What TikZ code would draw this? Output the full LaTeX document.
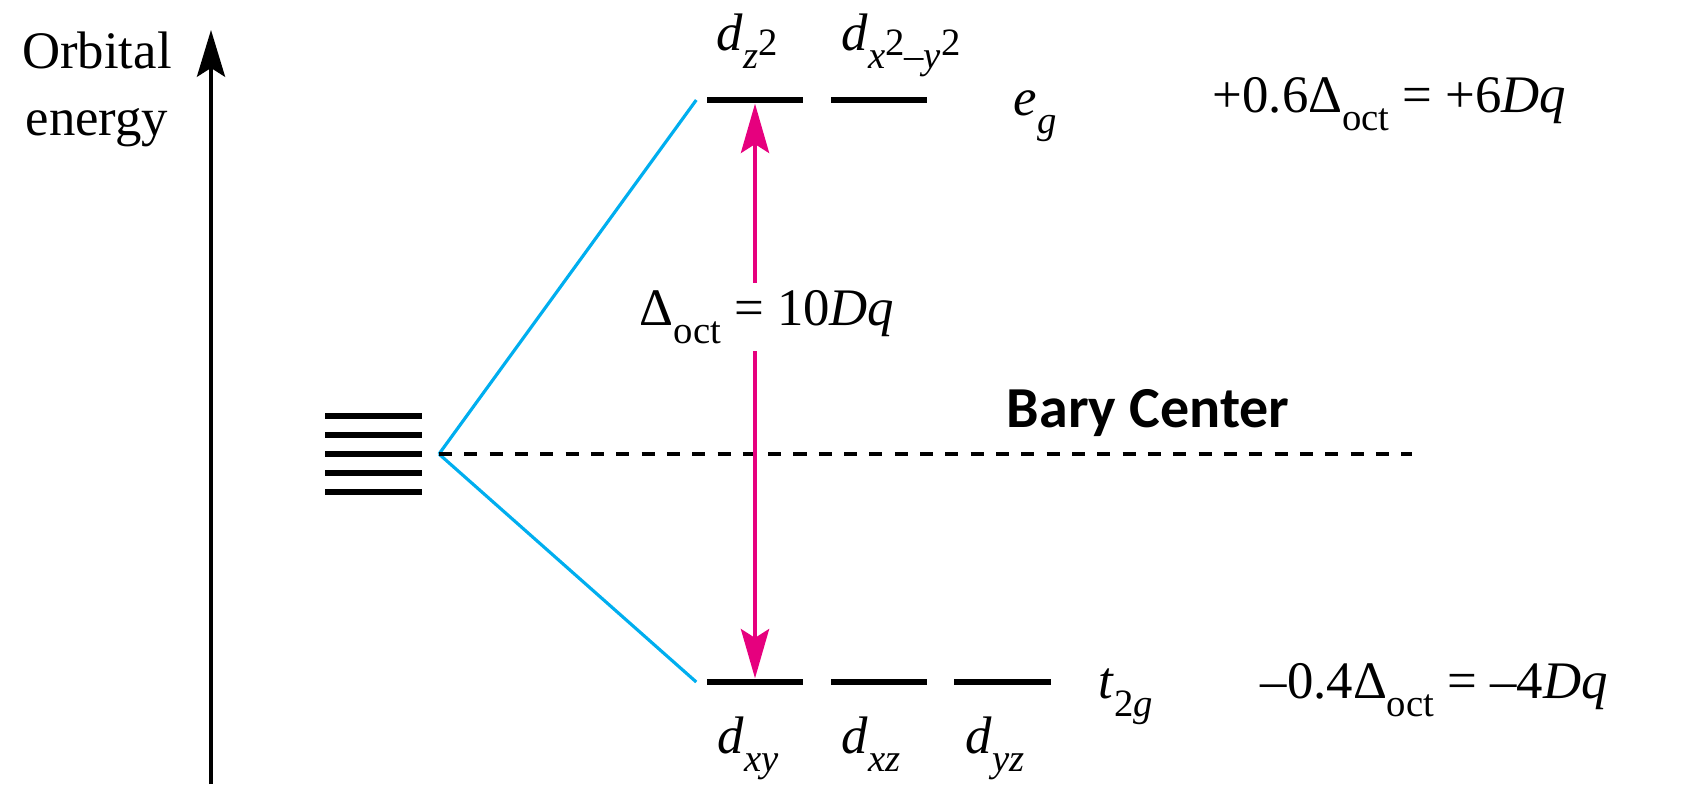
\documentclass[tikz,border=0pt]{standalone}
\usepackage{fontspec}
\setmainfont{Liberation Serif}
\newfontfamily\labelsans{Carlito}
\usepackage{xcolor}
\usepackage{tikz}
\usetikzlibrary{arrows.meta, positioning}
\definecolor{splitblue}{RGB}{0,174,239}
\definecolor{gapmagenta}{RGB}{230,0,126}
% lowered subscript and raised exponent, set as text
\newcommand{\lo}[1]{\raisebox{-0.35em}{\fontsize{11}{11}\selectfont #1}}
\newcommand{\up}[1]{\raisebox{0.33em}{#1}}

\begin{document}
\begin{tikzpicture}[x=0.01cm, y=-0.01cm, font=\fontsize{15}{18}\selectfont,
  level/.style={fill=black, inner sep=0pt, minimum width=0.96cm, minimum height=0.06cm},
  freelevel/.style={level, minimum width=0.97cm},
  split/.style={splitblue, line width=0.9pt},
  lbl/.style={inner sep=0pt, anchor=base}]
\useasboundingbox (0,0) rectangle (1689,784);
% Energy axis
\coordinate (axbot) at (211,784);
\coordinate (axtop) at (211,30);
\draw[line width=0.95pt, -{Stealth[length=13.3pt, width=8pt, inset=2.5pt]}] (axbot) -- (axtop);
\node[lbl] (orblbl) at (97,68) {Orbital};
\node[lbl] (enlbl) at (97,135) {energy};
% Free ion: five degenerate d levels
\foreach \k in {0,...,4} {
  \node[freelevel] (free\k) at (373.5,416+19*\k) {};
}
\coordinate (bary) at (439,454);
% Octahedral field levels
\node[level] (dz2) at (755,100) {};
\node[level] (dx2y2) at (879,100) {};
\node[level] (dxy) at (755,682) {};
\node[level] (dxz) at (879,682) {};
\node[level] (dyz) at (1002.5,682) {};
% Splitting lines
\draw[split] (bary) -- ([xshift=-0.1cm]dz2.west);
\draw[split] (bary) -- ([xshift=-0.1cm]dxy.west);
% Bary centre
\coordinate (barend) at (1412,454);
\draw[line width=0.95pt, dash pattern=on 3.7pt off 3.5pt] (bary) -- (barend);
\node[lbl, font=\labelsans\bfseries\fontsize{16.5}{20}\selectfont] (barylbl) at (1148,427) {Bary Center};
% Splitting energy
\draw[gapmagenta, line width=1.1pt,
      {Stealth[length=14pt, width=8pt, inset=2.5pt]}-{Stealth[length=14pt, width=8pt, inset=2.5pt]}]
      (dz2.south) -- (dxy.north);
\node[lbl, fill=white, inner sep=2pt] (splitlbl) at (767,325) {Δ\lo{oct} = 10\textit{Dq}};
% Orbital labels
\node[lbl] (dz2lbl) at (747,50) {\textit{d}\lo{\textit{z}\up{2}}};
\node[lbl] (dx2y2lbl) at (901,50) {\textit{d}\lo{\textit{x}\up{2}–\textit{y}\up{2}}};
\node[lbl] (dxylbl) at (748,753) {\textit{d}\lo{\textit{xy}}};
\node[lbl] (dxzlbl) at (871,753) {\textit{d}\lo{\textit{xz}}};
\node[lbl] (dyzlbl) at (995,753) {\textit{d}\lo{\textit{yz}}};
% Set labels and energies
\node[lbl, anchor=base west] (eglbl) at (1013,115) {\textit{e}\lo{\textit{g}}};
\node[lbl, anchor=base west] (t2glbl) at (1098,698) {\textit{t}\lo{2\textit{g}}};
\node[lbl, anchor=base west] (egval) at (1212,112) {+0.6Δ\lo{oct} = +6\textit{Dq}};
\node[lbl, anchor=base west] (t2gval) at (1260,698) {–0.4Δ\lo{oct} = –4\textit{Dq}};
\end{tikzpicture}
\end{document}
